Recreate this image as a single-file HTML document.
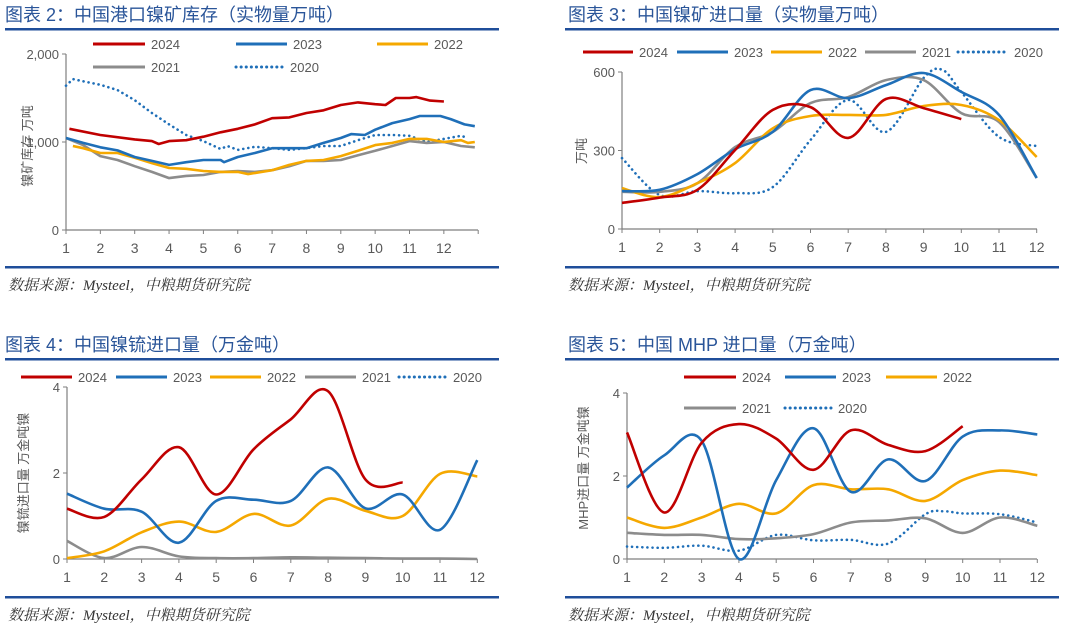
<!DOCTYPE html>
<html><head><meta charset="utf-8">
<style>
html,body{margin:0;padding:0;background:#fff;}
svg{display:block;font-family:"Liberation Sans","Noto Sans CJK SC",sans-serif;}
.title{font-size:18px;fill:#2a5599;}
.foot{font-size:15px;fill:#333;font-style:italic;font-family:"Liberation Serif","Noto Serif CJK SC",serif;}
.tick{font-size:13px;fill:#595959;}
.leg{font-size:13px;fill:#595959;}
.ytitle{font-size:13px;fill:#595959;}
</style></head>
<body>
<svg id="root" width="1080" height="626" viewBox="0 0 1080 626">
<g>
<text class="title" x="5" y="21">图表 2：中国港口镍矿库存（实物量万吨）</text>
<rect x="5" y="28" width="494" height="2.5" fill="#1f4e9a"/>
<rect x="5" y="266" width="494" height="2.5" fill="#1f4e9a"/>
<text class="foot" x="8" y="290">数据来源：Mysteel，中粮期货研究院</text>
<text class="ytitle" transform="translate(32,146) rotate(-90)" text-anchor="middle">镍矿库存 万吨</text>
</g>
<g>
<text class="title" x="568" y="21">图表 3：中国镍矿进口量（实物量万吨）</text>
<rect x="565" y="28" width="494" height="2.5" fill="#1f4e9a"/>
<rect x="565" y="266" width="494" height="2.5" fill="#1f4e9a"/>
<text class="foot" x="568" y="290">数据来源：Mysteel，中粮期货研究院</text>
<text class="ytitle" transform="translate(586,151) rotate(-90)" text-anchor="middle">万吨</text>
</g>
<g>
<text class="title" x="5" y="351">图表 4：中国镍锍进口量（万金吨）</text>
<rect x="5" y="358" width="494" height="2.5" fill="#1f4e9a"/>
<rect x="5" y="596" width="494" height="2.5" fill="#1f4e9a"/>
<text class="foot" x="8" y="620">数据来源：Mysteel，中粮期货研究院</text>
<text class="ytitle" transform="translate(28,473) rotate(-90)" text-anchor="middle">镍锍进口量 万金吨镍</text>
</g>
<g>
<text class="title" x="568" y="351">图表 5：中国 MHP 进口量（万金吨）</text>
<rect x="565" y="358" width="494" height="2.5" fill="#1f4e9a"/>
<rect x="565" y="596" width="494" height="2.5" fill="#1f4e9a"/>
<text class="foot" x="568" y="620">数据来源：Mysteel，中粮期货研究院</text>
<text class="ytitle" transform="translate(588,468) rotate(-90)" text-anchor="middle">MHP进口量 万金吨镍</text>
</g>
</svg>
<script>
// ---- Chart 2: port inventory (semi-monthly positions, month units)
const invX2024=[1.1,2,3,3.5,3.7,4,4.5,5,5.5,6,6.5,7,7.5,8,8.5,9,9.5,10,10.3,10.6,11,11.2,11.6,12];
const inv2024=[1150,1080,1030,1010,977,1010,1020,1060,1110,1150,1200,1270,1280,1330,1360,1420,1450,1430,1420,1500,1500,1510,1470,1460];
const invX2023=[1,1.5,2,2.5,3,3.5,4,4.5,5,5.5,5.6,6,6.5,7,7.5,8,8.5,9,9.3,9.7,10,10.5,11,11.3,11.9,12.2,12.6,12.9];
const inv2023=[1045,990,940,905,830,785,740,770,795,795,770,830,875,930,930,930,990,1045,1090,1080,1140,1215,1260,1295,1295,1260,1200,1180];
const invX2022=[1.2,1.5,2,2.5,3,3.5,4,4.5,5,5.5,6,6.3,7,7.5,8,8.5,9,9.5,10,10.5,11,11.5,12,12.5,12.7,12.9];
const inv2022=[955,930,875,875,820,760,705,695,670,660,660,635,680,740,785,795,840,900,965,990,1035,1035,1000,1020,990,1000];
const invX2021=[1,1.5,2,2.5,3,3.5,4,4.5,5,5.5,6,6.5,7,7.5,8,8.5,9,9.5,10,10.5,11,11.5,12,12.5,12.9];
const inv2021=[1045,965,840,795,725,660,590,615,625,660,670,660,680,725,785,785,795,850,900,955,1010,990,1000,955,940];
const invX2020=[1,1.2,1.5,2,2.5,3,3.5,4,4.5,5,5.5,5.7,6,6.5,7,7.5,8,8.5,9,9.5,10,10.5,11,11.5,12,12.5,12.7];
const inv2020=[1640,1715,1690,1650,1590,1475,1330,1200,1080,1010,920,955,910,945,930,910,930,955,955,1020,1080,1080,1070,1000,1035,1070,1045];
const invTicks=["0","1,000","2,000"];
// ---- Chart 3: ore imports
const months=[1,2,3,4,5,6,7,8,9,10,11,12];
const monthLabels=["1","2","3","4","5","6","7","8","9","10","11","12"];
const ore2024=[100,120,150,302,455,466,348,497,462,420];
const ore2023=[145,150,210,305,371,531,500,550,596,524,436,195];
const ore2022=[156,122,175,252,385,432,436,436,470,474,416,275];
const ore2021=[142,142,175,313,371,481,504,569,569,443,409,195];
const oreX2020=[1,2,3,4,5,6,7,8,9,9.5,10,11,12];
const ore2020=[271,130,145,137,160,340,493,371,577,608,524,352,317];
const oreTicks=["0","300","600"];
// ---- Chart 4: nickel matte imports
const matte2024=[1.17,0.98,1.85,2.6,1.5,2.55,3.25,3.9,1.85,1.78];
const matte2023=[1.52,1.17,1.1,0.38,1.35,1.38,1.35,2.13,1.18,1.5,0.68,2.3];
const matte2022=[0.02,0.18,0.62,0.87,0.63,1.05,0.78,1.4,1.12,1.0,1.98,1.92];
const matte2021=[0.42,0.02,0.28,0.06,0.02,0.02,0.04,0.03,0.02,0.01,0.01,0.0];
const matteTicks=["0","2","4"];
// ---- Chart 5: MHP imports
const mhp2024=[3.05,1.12,2.8,3.25,2.9,2.15,3.1,2.75,2.6,3.2];
const mhp2023=[1.72,2.5,2.85,0.0,1.9,3.15,1.62,2.4,1.88,2.95,3.1,3.0];
const mhp2022=[1.0,0.75,1.0,1.33,1.1,1.78,1.68,1.68,1.4,1.9,2.13,2.02];
const mhp2021=[0.63,0.58,0.58,0.48,0.5,0.6,0.88,0.93,0.98,0.63,1.0,0.8];
const mhpX2020=[1,2,3,4,5,6,7,8,9,9.5,10,11,12];
const mhp2020=[0.3,0.27,0.32,0.2,0.58,0.45,0.46,0.37,1.08,1.15,1.1,1.08,0.88];
const mhpTicks=["0","2","4"];

const C={r:"#c00000",b:"#1f6fb8",o:"#f5a800",g:"#8c8c8c"};
const NS="http://www.w3.org/2000/svg";
const root=document.getElementById('root');
function mk(tag,attrs,parent){const e=document.createElementNS(NS,tag);for(const k in attrs)e.setAttribute(k,attrs[k]);(parent||root).appendChild(e);return e;}

function pathD(pts,smooth){
  if(!smooth)return pts.map((p,i)=>(i?'L':'M')+p[0].toFixed(1)+','+p[1].toFixed(1)).join('');
  let d='M'+pts[0][0]+','+pts[0][1];
  for(let i=0;i<pts.length-1;i++){
    const p0=pts[i-1]||pts[i],p1=pts[i],p2=pts[i+1],p3=pts[i+2]||p2;
    const c1=[p1[0]+(p2[0]-p0[0])/6,p1[1]+(p2[1]-p0[1])/6];
    const c2=[p2[0]-(p3[0]-p1[0])/6,p2[1]-(p3[1]-p1[1])/6];
    d+='C'+c1[0].toFixed(1)+','+c1[1].toFixed(1)+' '+c2[0].toFixed(1)+','+c2[1].toFixed(1)+' '+p2[0].toFixed(1)+','+p2[1].toFixed(1);
  }
  return d;
}

function chart(cfg){
  const g=mk('g',{});
  
  
  const xs=m=>cfg.x0+(m-1)*cfg.dx;
  const ys=v=>cfg.y0-(v/cfg.vmax)*(cfg.y0-cfg.ytop);
  const ya=mk('line',{x1:cfg.x0,y1:cfg.ytop,x2:cfg.x0,y2:cfg.y0,stroke:'#7f7f7f','stroke-width':1.2},g);
  
  
  const xa=mk('line',{x1:cfg.x0,y1:cfg.y0,x2:cfg.xend,y2:cfg.y0,stroke:'#7f7f7f','stroke-width':1.2},g);
  
  
  cfg.ticks.forEach((t,i)=>{
    const v=cfg.vmax*i/(cfg.ticks.length-1);
    mk('line',{x1:cfg.x0-4,x2:cfg.x0,y1:ys(v),y2:ys(v),stroke:'#7f7f7f'},g);
    const tx=mk('text',{x:cfg.x0-7,y:ys(v)+5,'text-anchor':'end',class:'tick'},g);
    tx.textContent=t;
    
    
  });
  const nTick=cfg.endTick?13:12;
  for(let i=0;i<nTick;i++){
    const x=cfg.x0+i*cfg.dx;
    mk('line',{x1:x,x2:x,y1:cfg.y0,y2:cfg.y0+4,stroke:'#7f7f7f'},g);
  }
  monthLabels.forEach((l,i)=>{
    const tx=mk('text',{x:xs(i+1),y:cfg.y0+23,'text-anchor':'middle',class:'tick',style:'font-size:14px'},g);
    tx.textContent=l;
    
    
  });
  cfg.series.forEach(s=>{
    const xv=s.x||months;
    const pts=s.v.map((v,i)=>[xs(xv[i]),ys(v)]);
    const p=mk('path',{d:pathD(pts,cfg.smooth),fill:'none',stroke:s.c,'stroke-width':2.6,'stroke-linejoin':'round','stroke-linecap':s.dot?'round':'butt'},g);
    if(s.dot){p.setAttribute('stroke-dasharray','0.1 5');p.setAttribute('stroke-width',2.6);}
    
    
  });
  cfg.legend.forEach(L=>{
    const lg=mk('g',{},g);
    
    
    const ln=mk('line',{x1:L.x,x2:L.x+L.w,y1:L.y,y2:L.y,stroke:L.c,'stroke-width':3,'stroke-linecap':L.dot?'round':'butt'},lg);
    if(L.dot)ln.setAttribute('stroke-dasharray','0.1 5');
    const t=mk('text',{x:L.x+L.w+6,y:L.y+5,class:'leg'},lg);
    t.textContent=L.n;
  });
}

chart({name:'port-inventory',x0:66,dx:34.35,xend:478,endTick:true,y0:230,ytop:54,vmax:2000,ticks:invTicks,smooth:false,
  series:[{n:'2020',x:invX2020,v:inv2020,c:C.b,dot:true},{n:'2021',x:invX2021,v:inv2021,c:C.g},{n:'2022',x:invX2022,v:inv2022,c:C.o},{n:'2023',x:invX2023,v:inv2023,c:C.b},{n:'2024',x:invX2024,v:inv2024,c:C.r}],
  legend:[{n:'2024',x:93,y:44,w:52,c:C.r},{n:'2023',x:236,y:44,w:51,c:C.b},{n:'2022',x:377,y:44,w:51,c:C.o},{n:'2021',x:93,y:67,w:52,c:C.g},{n:'2020',x:236,y:67,w:48,c:C.b,dot:true}]});

chart({name:'ore-imports',x0:622,dx:37.7,xend:1037,y0:229,ytop:72,vmax:600,ticks:oreTicks,smooth:true,
  series:[{n:'2020',x:oreX2020,v:ore2020,c:C.b,dot:true},{n:'2021',v:ore2021,c:C.g},{n:'2022',v:ore2022,c:C.o},{n:'2023',v:ore2023,c:C.b},{n:'2024',v:ore2024,c:C.r}],
  legend:[{n:'2024',x:583,y:52,w:50,c:C.r},{n:'2023',x:677,y:52,w:51,c:C.b},{n:'2022',x:771,y:52,w:51,c:C.o},{n:'2021',x:865,y:52,w:51,c:C.g},{n:'2020',x:958,y:52,w:50,c:C.b,dot:true}]});

chart({name:'matte-imports',x0:67,dx:37.3,xend:477,y0:559,ytop:387,vmax:4,ticks:matteTicks,smooth:true,
  series:[{n:'2021',v:matte2021,c:C.g},{n:'2022',v:matte2022,c:C.o},{n:'2023',v:matte2023,c:C.b},{n:'2024',v:matte2024,c:C.r}],
  legend:[{n:'2024',x:21,y:377,w:51,c:C.r},{n:'2023',x:116,y:377,w:51,c:C.b},{n:'2022',x:210,y:377,w:51,c:C.o},{n:'2021',x:305,y:377,w:51,c:C.g},{n:'2020',x:399,y:377,w:48,c:C.b,dot:true}]});

chart({name:'mhp-imports',x0:627,dx:37.3,xend:1037,y0:559,ytop:393,vmax:4,ticks:mhpTicks,smooth:true,
  series:[{n:'2020',x:mhpX2020,v:mhp2020,c:C.b,dot:true},{n:'2021',v:mhp2021,c:C.g},{n:'2022',v:mhp2022,c:C.o},{n:'2023',v:mhp2023,c:C.b},{n:'2024',v:mhp2024,c:C.r}],
  legend:[{n:'2024',x:684,y:377,w:52,c:C.r},{n:'2023',x:785,y:377,w:51,c:C.b},{n:'2022',x:886,y:377,w:51,c:C.o},{n:'2021',x:684,y:408,w:52,c:C.g},{n:'2020',x:785,y:408,w:47,c:C.b,dot:true}]});
</script>
</body></html>
